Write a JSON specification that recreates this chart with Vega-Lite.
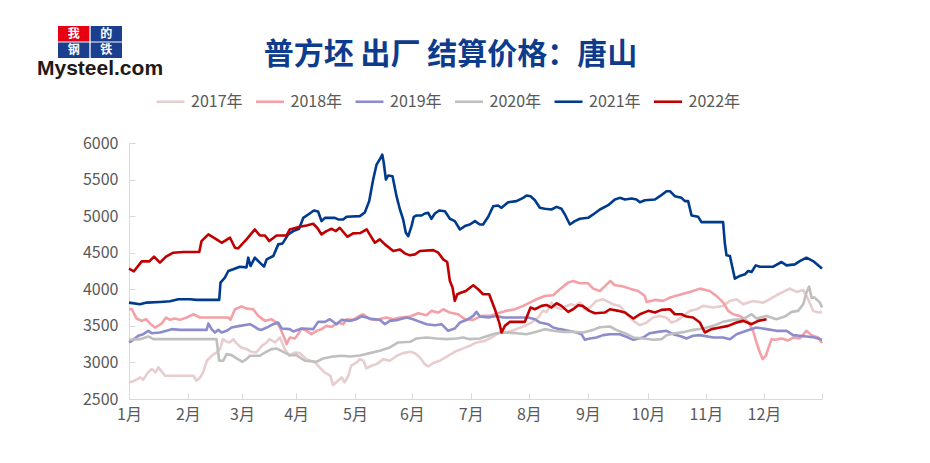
{
"$schema": "https://vega.github.io/schema/vega-lite/v6.json",
"background": "white",
"padding": {"left": 37, "top": 26, "right": 5, "bottom": 5},
"bounds": "flush",
"columns": 2,
"spacing": {"row": 85, "column": 7},
"resolve": {"scale": {"color": "independent", "strokeWidth": "independent"}},
"config": {"view": {"stroke": null}, "font": "Noto Sans CJK SC"},
"concat": [
{
"width": 64, "height": 32,
"data": {"values": [{"c": "我", "col": "a", "row": "a"}, {"c": "的", "col": "b", "row": "a"}, {"c": "钢", "col": "a", "row": "b"}, {"c": "铁", "col": "b", "row": "b"}]},
"title": {"text": "Mysteel.com", "orient": "bottom", "anchor": "start", "frame": "group", "dx": -21, "offset": 17, "baseline": "alphabetic", "fontSize": 21, "fontWeight": "bold", "font": "Liberation Sans", "color": "#231815"},
"encoding": {
"x": {"field": "col", "type": "nominal", "axis": null, "scale": {"paddingInner": 0.04, "paddingOuter": 0}},
"y": {"field": "row", "type": "nominal", "axis": null, "scale": {"paddingInner": 0.06, "paddingOuter": 0}}
},
"layer": [
{"mark": {"type": "rect"}, "encoding": {"fill": {"condition": {"test": "datum.c === '我'", "value": "#E60012"}, "value": "#1B3F8E"}}},
{"mark": {"type": "text", "fontSize": 12, "fontWeight": "bold", "color": "white", "font": "Noto Sans CJK SC"}, "encoding": {"text": {"field": "c", "type": "nominal"}}}
]
},
{
"width": 693, "height": 32,
"data": {"values": [{"t": ""}]},
"title": {"text": "普方坯 出厂 结算价格：唐山", "orient": "bottom", "anchor": "middle", "frame": "group", "dx": -25, "offset": 6, "baseline": "alphabetic", "fontSize": 30, "fontWeight": "bold", "color": "#0D3C8C", "font": "Noto Sans CJK SC"},
"mark": {"type": "text"},
"encoding": {"text": {"field": "t", "type": "nominal"}}
},
{
"width": 1, "height": 1,
"data": {"values": [{"t": ""}]},
"mark": {"type": "text"},
"encoding": {"text": {"field": "t", "type": "nominal"}}
},
{
"width": 693, "height": 256,
"data": {"values": [
{"year":"2017年","d":0,"v":2727},{"year":"2017年","d":3,"v":2750},{"year":"2017年","d":6,"v":2795},{"year":"2017年","d":7.5,"v":2764},{"year":"2017年","d":10,"v":2864},{"year":"2017年","d":12,"v":2909},{"year":"2017年","d":14,"v":2864},{"year":"2017年","d":15.5,"v":2932},{"year":"2017年","d":19,"v":2818},{"year":"2017年","d":34,"v":2818},{"year":"2017年","d":35.5,"v":2750},{"year":"2017年","d":37.5,"v":2795},{"year":"2017年","d":39,"v":2864},{"year":"2017年","d":41,"v":3023},{"year":"2017年","d":43.5,"v":3091},{"year":"2017年","d":46,"v":3136},{"year":"2017年","d":48,"v":3182},{"year":"2017年","d":49.5,"v":3318},{"year":"2017年","d":51.5,"v":3282},{"year":"2017年","d":53,"v":3273},{"year":"2017年","d":55,"v":3318},{"year":"2017年","d":56.5,"v":3264},{"year":"2017年","d":59,"v":3205},{"year":"2017年","d":62,"v":3182},{"year":"2017年","d":64.5,"v":3145},{"year":"2017年","d":67,"v":3136},{"year":"2017年","d":70,"v":3227},{"year":"2017年","d":72.5,"v":3273},{"year":"2017年","d":74,"v":3318},{"year":"2017年","d":77,"v":3273},{"year":"2017年","d":79.5,"v":3341},{"year":"2017年","d":82,"v":3182},{"year":"2017年","d":84.5,"v":3091},{"year":"2017年","d":87.5,"v":3136},{"year":"2017年","d":90,"v":3127},{"year":"2017年","d":93.5,"v":3045},{"year":"2017年","d":98,"v":3000},{"year":"2017年","d":99.5,"v":2955},{"year":"2017年","d":103,"v":2864},{"year":"2017年","d":106,"v":2818},{"year":"2017年","d":107.5,"v":2691},{"year":"2017年","d":110,"v":2750},{"year":"2017年","d":112,"v":2795},{"year":"2017年","d":113.5,"v":2727},{"year":"2017年","d":115.5,"v":2818},{"year":"2017年","d":117,"v":2955},{"year":"2017年","d":120,"v":3000},{"year":"2017年","d":121.5,"v":3045},{"year":"2017年","d":123.5,"v":3023},{"year":"2017年","d":125,"v":2920},{"year":"2017年","d":127.7,"v":2955},{"year":"2017年","d":130.4,"v":2977},{"year":"2017年","d":134,"v":3045},{"year":"2017年","d":137.4,"v":3023},{"year":"2017年","d":141,"v":3091},{"year":"2017年","d":144.4,"v":3127},{"year":"2017年","d":148,"v":3145},{"year":"2017年","d":150.6,"v":3127},{"year":"2017年","d":153.2,"v":3068},{"year":"2017年","d":155.8,"v":2977},{"year":"2017年","d":157.6,"v":2945},{"year":"2017年","d":160.2,"v":2991},{"year":"2017年","d":163.7,"v":3023},{"year":"2017年","d":168,"v":3091},{"year":"2017年","d":171.6,"v":3145},{"year":"2017年","d":175,"v":3182},{"year":"2017年","d":179.5,"v":3227},{"year":"2017年","d":183,"v":3273},{"year":"2017年","d":187.4,"v":3295},{"year":"2017年","d":191,"v":3341},{"year":"2017年","d":195.3,"v":3409},{"year":"2017年","d":199.7,"v":3418},{"year":"2017年","d":204,"v":3455},{"year":"2017年","d":208.5,"v":3500},{"year":"2017年","d":212,"v":3545},{"year":"2017年","d":215.5,"v":3614},{"year":"2017年","d":218,"v":3705},{"year":"2017年","d":220,"v":3691},{"year":"2017年","d":222.5,"v":3818},{"year":"2017年","d":225,"v":3750},{"year":"2017年","d":228,"v":3727},{"year":"2017年","d":230.4,"v":3773},{"year":"2017年","d":233,"v":3795},{"year":"2017年","d":235,"v":3773},{"year":"2017年","d":237.5,"v":3818},{"year":"2017年","d":240,"v":3727},{"year":"2017年","d":242.7,"v":3750},{"year":"2017年","d":246.2,"v":3841},{"year":"2017年","d":249.7,"v":3864},{"year":"2017年","d":251.5,"v":3841},{"year":"2017年","d":255,"v":3795},{"year":"2017年","d":258.5,"v":3773},{"year":"2017年","d":263,"v":3636},{"year":"2017年","d":265.6,"v":3568},{"year":"2017年","d":269,"v":3509},{"year":"2017年","d":272.6,"v":3545},{"year":"2017年","d":276,"v":3614},{"year":"2017年","d":279.6,"v":3636},{"year":"2017年","d":283,"v":3614},{"year":"2017年","d":285.7,"v":3545},{"year":"2017年","d":288.4,"v":3568},{"year":"2017年","d":292,"v":3636},{"year":"2017年","d":295.4,"v":3705},{"year":"2017年","d":299,"v":3727},{"year":"2017年","d":302.4,"v":3773},{"year":"2017年","d":307.7,"v":3750},{"year":"2017年","d":313,"v":3773},{"year":"2017年","d":316.5,"v":3841},{"year":"2017年","d":320,"v":3864},{"year":"2017年","d":323.5,"v":3795},{"year":"2017年","d":328.7,"v":3841},{"year":"2017年","d":334,"v":3818},{"year":"2017年","d":337.5,"v":3864},{"year":"2017年","d":341,"v":3918},{"year":"2017年","d":344.5,"v":3964},{"year":"2017年","d":348,"v":4009},{"year":"2017年","d":351.6,"v":3964},{"year":"2017年","d":355,"v":3991},{"year":"2017年","d":357.7,"v":3864},{"year":"2017年","d":360.3,"v":3705},{"year":"2017年","d":363,"v":3682},{"year":"2017年","d":365,"v":3691},
{"year":"2018年","d":0,"v":3727},{"year":"2018年","d":1.5,"v":3727},{"year":"2018年","d":4,"v":3600},{"year":"2018年","d":6.7,"v":3568},{"year":"2018年","d":9,"v":3591},{"year":"2018年","d":11.4,"v":3523},{"year":"2018年","d":13.7,"v":3477},{"year":"2018年","d":17.2,"v":3532},{"year":"2018年","d":19.5,"v":3614},{"year":"2018年","d":21.6,"v":3582},{"year":"2018年","d":24.2,"v":3600},{"year":"2018年","d":26.8,"v":3582},{"year":"2018年","d":30.4,"v":3614},{"year":"2018年","d":33.9,"v":3659},{"year":"2018年","d":37.4,"v":3614},{"year":"2018年","d":52.3,"v":3614},{"year":"2018年","d":53.5,"v":3582},{"year":"2018年","d":55.8,"v":3727},{"year":"2018年","d":59.3,"v":3764},{"year":"2018年","d":61.9,"v":3736},{"year":"2018年","d":65.4,"v":3727},{"year":"2018年","d":68.1,"v":3636},{"year":"2018年","d":71.6,"v":3568},{"year":"2018年","d":75.1,"v":3591},{"year":"2018年","d":77.7,"v":3545},{"year":"2018年","d":79.5,"v":3477},{"year":"2018年","d":82.1,"v":3318},{"year":"2018年","d":83,"v":3250},{"year":"2018年","d":84.7,"v":3341},{"year":"2018年","d":87.4,"v":3327},{"year":"2018年","d":89.1,"v":3386},{"year":"2018年","d":90.9,"v":3464},{"year":"2018年","d":93.5,"v":3432},{"year":"2018年","d":96.1,"v":3386},{"year":"2018年","d":98.8,"v":3432},{"year":"2018年","d":101.4,"v":3455},{"year":"2018年","d":104,"v":3500},{"year":"2018年","d":106.7,"v":3486},{"year":"2018年","d":110.2,"v":3545},{"year":"2018年","d":112.8,"v":3523},{"year":"2018年","d":114.6,"v":3591},{"year":"2018年","d":118,"v":3582},{"year":"2018年","d":121.6,"v":3640},{"year":"2018年","d":123.3,"v":3659},{"year":"2018年","d":126.9,"v":3591},{"year":"2018年","d":130.4,"v":3582},{"year":"2018年","d":135.6,"v":3614},{"year":"2018年","d":139.2,"v":3591},{"year":"2018年","d":142.7,"v":3614},{"year":"2018年","d":148,"v":3627},{"year":"2018年","d":152.3,"v":3673},{"year":"2018年","d":156.7,"v":3645},{"year":"2018年","d":159.3,"v":3705},{"year":"2018年","d":162.9,"v":3682},{"year":"2018年","d":165.5,"v":3727},{"year":"2018年","d":169,"v":3682},{"year":"2018年","d":173.4,"v":3659},{"year":"2018年","d":176.9,"v":3591},{"year":"2018年","d":181.3,"v":3582},{"year":"2018年","d":185.7,"v":3636},{"year":"2018年","d":190.1,"v":3636},{"year":"2018年","d":194.4,"v":3673},{"year":"2018年","d":198.8,"v":3705},{"year":"2018年","d":203.2,"v":3727},{"year":"2018年","d":207.6,"v":3773},{"year":"2018年","d":211.1,"v":3818},{"year":"2018年","d":214.6,"v":3864},{"year":"2018年","d":219,"v":3909},{"year":"2018年","d":223.4,"v":3918},{"year":"2018年","d":226.9,"v":4000},{"year":"2018年","d":231.3,"v":4091},{"year":"2018年","d":233.9,"v":4114},{"year":"2018年","d":237.5,"v":4082},{"year":"2018年","d":241.8,"v":4082},{"year":"2018年","d":244.5,"v":4009},{"year":"2018年","d":248,"v":3977},{"year":"2018年","d":250.6,"v":4040},{"year":"2018年","d":253.5,"v":4114},{"year":"2018年","d":255.9,"v":4055},{"year":"2018年","d":259.4,"v":4045},{"year":"2018年","d":263.8,"v":4009},{"year":"2018年","d":268.2,"v":3977},{"year":"2018年","d":271.7,"v":3909},{"year":"2018年","d":272.6,"v":3827},{"year":"2018年","d":277,"v":3855},{"year":"2018年","d":281.4,"v":3841},{"year":"2018年","d":284.9,"v":3886},{"year":"2018年","d":289.2,"v":3918},{"year":"2018年","d":292.8,"v":3945},{"year":"2018年","d":295.4,"v":3964},{"year":"2018年","d":300.7,"v":4009},{"year":"2018年","d":305.9,"v":3977},{"year":"2018年","d":309.4,"v":3909},{"year":"2018年","d":313,"v":3818},{"year":"2018年","d":315.6,"v":3705},{"year":"2018年","d":318.2,"v":3659},{"year":"2018年","d":321.7,"v":3636},{"year":"2018年","d":326.1,"v":3555},{"year":"2018年","d":328.7,"v":3432},{"year":"2018年","d":330.5,"v":3273},{"year":"2018年","d":332.3,"v":3136},{"year":"2018年","d":333.7,"v":3045},{"year":"2018年","d":335.4,"v":3091},{"year":"2018年","d":336.6,"v":3182},{"year":"2018年","d":338.4,"v":3318},{"year":"2018年","d":340.2,"v":3309},{"year":"2018年","d":343.7,"v":3327},{"year":"2018年","d":347.2,"v":3300},{"year":"2018年","d":349.8,"v":3341},{"year":"2018年","d":353.3,"v":3327},{"year":"2018年","d":356.8,"v":3432},{"year":"2018年","d":359.5,"v":3373},{"year":"2018年","d":363,"v":3341},{"year":"2018年","d":365,"v":3264},
{"year":"2019年","d":0,"v":3273},{"year":"2019年","d":1.5,"v":3295},{"year":"2019年","d":4.9,"v":3364},{"year":"2019年","d":7.5,"v":3386},{"year":"2019年","d":10.2,"v":3432},{"year":"2019年","d":11.9,"v":3400},{"year":"2019年","d":16.3,"v":3409},{"year":"2019年","d":19.8,"v":3432},{"year":"2019年","d":22.5,"v":3455},{"year":"2019年","d":26.8,"v":3445},{"year":"2019年","d":40.9,"v":3445},{"year":"2019年","d":41.8,"v":3532},{"year":"2019年","d":43.5,"v":3455},{"year":"2019年","d":45.3,"v":3409},{"year":"2019年","d":47,"v":3445},{"year":"2019年","d":48.8,"v":3409},{"year":"2019年","d":51.4,"v":3432},{"year":"2019年","d":54,"v":3477},{"year":"2019年","d":58.4,"v":3500},{"year":"2019年","d":63.7,"v":3523},{"year":"2019年","d":65.4,"v":3500},{"year":"2019年","d":68.1,"v":3455},{"year":"2019年","d":69.8,"v":3445},{"year":"2019年","d":72.5,"v":3477},{"year":"2019年","d":76,"v":3523},{"year":"2019年","d":78.6,"v":3545},{"year":"2019年","d":80.4,"v":3464},{"year":"2019年","d":84.7,"v":3455},{"year":"2019年","d":86.5,"v":3423},{"year":"2019年","d":90.9,"v":3464},{"year":"2019年","d":97,"v":3455},{"year":"2019年","d":99.6,"v":3555},{"year":"2019年","d":103.2,"v":3555},{"year":"2019年","d":105.8,"v":3591},{"year":"2019年","d":109.3,"v":3523},{"year":"2019年","d":111.9,"v":3582},{"year":"2019年","d":116.3,"v":3568},{"year":"2019年","d":119.8,"v":3591},{"year":"2019年","d":122.5,"v":3630},{"year":"2019年","d":125.1,"v":3614},{"year":"2019年","d":127.7,"v":3595},{"year":"2019年","d":132.1,"v":3582},{"year":"2019年","d":134.8,"v":3523},{"year":"2019年","d":137.4,"v":3568},{"year":"2019年","d":141.8,"v":3582},{"year":"2019年","d":146.2,"v":3614},{"year":"2019年","d":149.7,"v":3591},{"year":"2019年","d":153.2,"v":3555},{"year":"2019年","d":156.7,"v":3523},{"year":"2019年","d":161.1,"v":3509},{"year":"2019年","d":164.6,"v":3523},{"year":"2019年","d":168.1,"v":3432},{"year":"2019年","d":171.6,"v":3464},{"year":"2019年","d":174.3,"v":3545},{"year":"2019年","d":178.6,"v":3591},{"year":"2019年","d":181.3,"v":3636},{"year":"2019年","d":183,"v":3691},{"year":"2019年","d":184.8,"v":3627},{"year":"2019年","d":189.2,"v":3614},{"year":"2019年","d":193.6,"v":3636},{"year":"2019年","d":197.1,"v":3614},{"year":"2019年","d":210.2,"v":3614},{"year":"2019年","d":213.8,"v":3591},{"year":"2019年","d":216.4,"v":3545},{"year":"2019年","d":220.8,"v":3523},{"year":"2019年","d":223.4,"v":3477},{"year":"2019年","d":226.9,"v":3455},{"year":"2019年","d":231.3,"v":3432},{"year":"2019年","d":235.7,"v":3409},{"year":"2019年","d":238.3,"v":3386},{"year":"2019年","d":240.1,"v":3309},{"year":"2019年","d":242.7,"v":3327},{"year":"2019年","d":246.2,"v":3341},{"year":"2019年","d":249.7,"v":3373},{"year":"2019年","d":253.3,"v":3386},{"year":"2019年","d":258.5,"v":3386},{"year":"2019年","d":262.9,"v":3341},{"year":"2019年","d":265.6,"v":3309},{"year":"2019年","d":270.8,"v":3341},{"year":"2019年","d":274.3,"v":3400},{"year":"2019年","d":278.7,"v":3418},{"year":"2019年","d":283.1,"v":3432},{"year":"2019年","d":286.6,"v":3386},{"year":"2019年","d":291,"v":3355},{"year":"2019年","d":293.6,"v":3327},{"year":"2019年","d":297.1,"v":3364},{"year":"2019年","d":300.7,"v":3373},{"year":"2019年","d":307.7,"v":3341},{"year":"2019年","d":312.9,"v":3341},{"year":"2019年","d":316.5,"v":3318},{"year":"2019年","d":320,"v":3386},{"year":"2019年","d":325.2,"v":3432},{"year":"2019年","d":330.5,"v":3477},{"year":"2019年","d":335.8,"v":3455},{"year":"2019年","d":341,"v":3432},{"year":"2019年","d":346.3,"v":3432},{"year":"2019年","d":349.8,"v":3373},{"year":"2019年","d":356.8,"v":3355},{"year":"2019年","d":361.2,"v":3341},{"year":"2019年","d":365,"v":3309},
{"year":"2020年","d":0,"v":3309},{"year":"2020年","d":5.8,"v":3318},{"year":"2020年","d":10.2,"v":3355},{"year":"2020年","d":12.8,"v":3318},{"year":"2020年","d":46.1,"v":3318},{"year":"2020年","d":47.5,"v":3023},{"year":"2020年","d":49.6,"v":3023},{"year":"2020年","d":51.4,"v":3114},{"year":"2020年","d":54,"v":3100},{"year":"2020年","d":56.7,"v":3055},{"year":"2020年","d":59.8,"v":3009},{"year":"2020年","d":61.9,"v":3045},{"year":"2020年","d":63.7,"v":3091},{"year":"2020年","d":68.9,"v":3091},{"year":"2020年","d":71.6,"v":3136},{"year":"2020年","d":75.1,"v":3182},{"year":"2020年","d":77.7,"v":3191},{"year":"2020年","d":81.2,"v":3145},{"year":"2020年","d":84.7,"v":3100},{"year":"2020年","d":88.2,"v":3100},{"year":"2020年","d":92.6,"v":3023},{"year":"2020年","d":98.8,"v":3009},{"year":"2020年","d":102.3,"v":3055},{"year":"2020年","d":106.7,"v":3077},{"year":"2020年","d":111.9,"v":3091},{"year":"2020年","d":116.3,"v":3082},{"year":"2020年","d":121.6,"v":3095},{"year":"2020年","d":126.9,"v":3127},{"year":"2020年","d":132.1,"v":3159},{"year":"2020年","d":137.4,"v":3205},{"year":"2020年","d":141.8,"v":3273},{"year":"2020年","d":148,"v":3282},{"year":"2020年","d":151.4,"v":3327},{"year":"2020年","d":156.7,"v":3341},{"year":"2020年","d":162,"v":3327},{"year":"2020年","d":167.2,"v":3318},{"year":"2020年","d":172.5,"v":3327},{"year":"2020年","d":176,"v":3341},{"year":"2020年","d":179.5,"v":3318},{"year":"2020年","d":184.8,"v":3327},{"year":"2020年","d":189.2,"v":3364},{"year":"2020年","d":193.6,"v":3400},{"year":"2020年","d":198.8,"v":3409},{"year":"2020年","d":204.1,"v":3400},{"year":"2020年","d":209.4,"v":3386},{"year":"2020年","d":214.6,"v":3418},{"year":"2020年","d":219,"v":3455},{"year":"2020年","d":223.4,"v":3432},{"year":"2020年","d":228.7,"v":3418},{"year":"2020年","d":233.9,"v":3418},{"year":"2020年","d":239.2,"v":3409},{"year":"2020年","d":244.5,"v":3445},{"year":"2020年","d":248,"v":3480},{"year":"2020年","d":253.3,"v":3491},{"year":"2020年","d":257.7,"v":3432},{"year":"2020年","d":261.2,"v":3400},{"year":"2020年","d":265.6,"v":3341},{"year":"2020年","d":270.8,"v":3327},{"year":"2020年","d":276.1,"v":3309},{"year":"2020年","d":280.5,"v":3318},{"year":"2020年","d":283.1,"v":3373},{"year":"2020年","d":287.5,"v":3400},{"year":"2020年","d":292.8,"v":3418},{"year":"2020年","d":297.1,"v":3445},{"year":"2020年","d":302.4,"v":3464},{"year":"2020年","d":307.7,"v":3500},{"year":"2020年","d":312.9,"v":3555},{"year":"2020年","d":318.2,"v":3582},{"year":"2020年","d":323.5,"v":3591},{"year":"2020年","d":327.9,"v":3659},{"year":"2020年","d":330.5,"v":3600},{"year":"2020年","d":335.8,"v":3636},{"year":"2020年","d":341,"v":3591},{"year":"2020年","d":345.4,"v":3627},{"year":"2020年","d":349,"v":3691},{"year":"2020年","d":352.4,"v":3705},{"year":"2020年","d":355.1,"v":3795},{"year":"2020年","d":356.8,"v":3955},{"year":"2020年","d":358.2,"v":4036},{"year":"2020年","d":359.5,"v":3886},{"year":"2020年","d":361.2,"v":3886},{"year":"2020年","d":363.9,"v":3818},{"year":"2020年","d":365,"v":3750},
{"year":"2021年","d":0,"v":3818},{"year":"2021年","d":5.8,"v":3795},{"year":"2021年","d":9.3,"v":3818},{"year":"2021年","d":16.3,"v":3827},{"year":"2021年","d":21.6,"v":3836},{"year":"2021年","d":26,"v":3864},{"year":"2021年","d":32.1,"v":3864},{"year":"2021年","d":35.6,"v":3855},{"year":"2021年","d":47.5,"v":3855},{"year":"2021年","d":48.2,"v":4091},{"year":"2021年","d":50.5,"v":4159},{"year":"2021年","d":52.3,"v":4250},{"year":"2021年","d":54.9,"v":4273},{"year":"2021年","d":58.4,"v":4309},{"year":"2021年","d":61.9,"v":4300},{"year":"2021年","d":62.8,"v":4432},{"year":"2021年","d":64,"v":4318},{"year":"2021年","d":66.3,"v":4432},{"year":"2021年","d":68.9,"v":4364},{"year":"2021年","d":71.1,"v":4309},{"year":"2021年","d":72.5,"v":4409},{"year":"2021年","d":76,"v":4455},{"year":"2021年","d":78.6,"v":4614},{"year":"2021年","d":80.9,"v":4627},{"year":"2021年","d":83.9,"v":4750},{"year":"2021年","d":86.5,"v":4796},{"year":"2021年","d":89.6,"v":4827},{"year":"2021年","d":91.8,"v":4977},{"year":"2021年","d":94.4,"v":5023},{"year":"2021年","d":97.4,"v":5077},{"year":"2021年","d":99.6,"v":5064},{"year":"2021年","d":101.4,"v":4932},{"year":"2021年","d":103.2,"v":4977},{"year":"2021年","d":108.4,"v":4977},{"year":"2021年","d":110.2,"v":4955},{"year":"2021年","d":112.8,"v":4955},{"year":"2021年","d":114.6,"v":4991},{"year":"2021年","d":121.6,"v":5000},{"year":"2021年","d":124.2,"v":5050},{"year":"2021年","d":126.5,"v":5205},{"year":"2021年","d":128.6,"v":5500},{"year":"2021年","d":130.4,"v":5705},{"year":"2021年","d":132.5,"v":5795},{"year":"2021年","d":133.4,"v":5841},{"year":"2021年","d":134.2,"v":5727},{"year":"2021年","d":135.3,"v":5500},{"year":"2021年","d":136.5,"v":5555},{"year":"2021年","d":138.8,"v":5545},{"year":"2021年","d":140.9,"v":5273},{"year":"2021年","d":142.7,"v":5091},{"year":"2021年","d":144.4,"v":4955},{"year":"2021年","d":145.8,"v":4773},{"year":"2021年","d":147.1,"v":4727},{"year":"2021年","d":148.8,"v":4864},{"year":"2021年","d":150,"v":4991},{"year":"2021年","d":151.4,"v":5009},{"year":"2021年","d":154.1,"v":5009},{"year":"2021年","d":155.8,"v":5036},{"year":"2021年","d":157.6,"v":5045},{"year":"2021年","d":159.3,"v":4964},{"year":"2021年","d":161.1,"v":5036},{"year":"2021年","d":163.4,"v":5077},{"year":"2021年","d":166.4,"v":5068},{"year":"2021年","d":169,"v":4964},{"year":"2021年","d":171.6,"v":4932},{"year":"2021年","d":174.3,"v":4818},{"year":"2021年","d":176.9,"v":4864},{"year":"2021年","d":179.5,"v":4886},{"year":"2021年","d":182.2,"v":4932},{"year":"2021年","d":184.8,"v":4886},{"year":"2021年","d":186.5,"v":4886},{"year":"2021年","d":189.2,"v":4991},{"year":"2021年","d":191.8,"v":5136},{"year":"2021年","d":194.4,"v":5145},{"year":"2021年","d":196.2,"v":5114},{"year":"2021年","d":199.7,"v":5191},{"year":"2021年","d":204.1,"v":5205},{"year":"2021年","d":207.6,"v":5250},{"year":"2021年","d":209.4,"v":5282},{"year":"2021年","d":211.5,"v":5273},{"year":"2021年","d":213.8,"v":5218},{"year":"2021年","d":216.4,"v":5114},{"year":"2021年","d":219,"v":5100},{"year":"2021年","d":222.5,"v":5091},{"year":"2021年","d":225.2,"v":5127},{"year":"2021年","d":227.8,"v":5100},{"year":"2021年","d":229.6,"v":5023},{"year":"2021年","d":232.2,"v":4886},{"year":"2021年","d":234.8,"v":4932},{"year":"2021年","d":237.5,"v":4964},{"year":"2021年","d":241.8,"v":4977},{"year":"2021年","d":244.5,"v":5023},{"year":"2021年","d":248,"v":5091},{"year":"2021年","d":252.4,"v":5150},{"year":"2021年","d":255.9,"v":5227},{"year":"2021年","d":258.5,"v":5250},{"year":"2021年","d":261.2,"v":5227},{"year":"2021年","d":264.7,"v":5241},{"year":"2021年","d":267.3,"v":5227},{"year":"2021年","d":269.1,"v":5191},{"year":"2021年","d":271.7,"v":5218},{"year":"2021年","d":277,"v":5227},{"year":"2021年","d":279.6,"v":5273},{"year":"2021年","d":283.1,"v":5341},{"year":"2021年","d":284.9,"v":5341},{"year":"2021年","d":287.5,"v":5273},{"year":"2021年","d":291,"v":5250},{"year":"2021年","d":292.8,"v":5205},{"year":"2021年","d":294.5,"v":5205},{"year":"2021年","d":296.3,"v":5009},{"year":"2021年","d":299.8,"v":4991},{"year":"2021年","d":301.5,"v":4918},{"year":"2021年","d":312.9,"v":4918},{"year":"2021年","d":313.8,"v":4636},{"year":"2021年","d":314.7,"v":4464},{"year":"2021年","d":316.5,"v":4455},{"year":"2021年","d":319.1,"v":4145},{"year":"2021年","d":321.7,"v":4182},{"year":"2021年","d":324.4,"v":4205},{"year":"2021年","d":326.1,"v":4250},{"year":"2021年","d":327.9,"v":4236},{"year":"2021年","d":330.1,"v":4327},{"year":"2021年","d":332.3,"v":4309},{"year":"2021年","d":339.3,"v":4309},{"year":"2021年","d":343.7,"v":4373},{"year":"2021年","d":346.3,"v":4327},{"year":"2021年","d":350.7,"v":4341},{"year":"2021年","d":353.3,"v":4386},{"year":"2021年","d":356.8,"v":4432},{"year":"2021年","d":360.3,"v":4386},{"year":"2021年","d":363.9,"v":4309},{"year":"2021年","d":365,"v":4282},
{"year":"2022年","d":0,"v":4282},{"year":"2022年","d":2.6,"v":4246},{"year":"2022年","d":6.7,"v":4382},{"year":"2022年","d":10.7,"v":4382},{"year":"2022年","d":13.2,"v":4446},{"year":"2022年","d":16.3,"v":4364},{"year":"2022年","d":19.5,"v":4446},{"year":"2022年","d":23.3,"v":4500},{"year":"2022年","d":28.6,"v":4510},{"year":"2022年","d":37,"v":4510},{"year":"2022年","d":38.2,"v":4659},{"year":"2022年","d":41.8,"v":4750},{"year":"2022年","d":46.1,"v":4682},{"year":"2022年","d":48.8,"v":4636},{"year":"2022年","d":53.2,"v":4705},{"year":"2022年","d":55.8,"v":4568},{"year":"2022年","d":57.5,"v":4559},{"year":"2022年","d":61.9,"v":4682},{"year":"2022年","d":66.3,"v":4818},{"year":"2022年","d":68.9,"v":4736},{"year":"2022年","d":71.6,"v":4736},{"year":"2022年","d":73.9,"v":4659},{"year":"2022年","d":77.7,"v":4736},{"year":"2022年","d":83,"v":4736},{"year":"2022年","d":84.7,"v":4818},{"year":"2022年","d":90,"v":4855},{"year":"2022年","d":93.5,"v":4873},{"year":"2022年","d":97,"v":4896},{"year":"2022年","d":99.1,"v":4841},{"year":"2022年","d":101.4,"v":4750},{"year":"2022年","d":104,"v":4796},{"year":"2022年","d":106.7,"v":4827},{"year":"2022年","d":109,"v":4796},{"year":"2022年","d":111,"v":4841},{"year":"2022年","d":115,"v":4718},{"year":"2022年","d":118,"v":4764},{"year":"2022年","d":122,"v":4770},{"year":"2022年","d":125.2,"v":4818},{"year":"2022年","d":127,"v":4740},{"year":"2022年","d":129.5,"v":4636},{"year":"2022年","d":132.1,"v":4682},{"year":"2022年","d":134.8,"v":4614},{"year":"2022年","d":139.2,"v":4523},{"year":"2022年","d":142.7,"v":4545},{"year":"2022年","d":145.3,"v":4491},{"year":"2022年","d":148,"v":4464},{"year":"2022年","d":150.6,"v":4477},{"year":"2022年","d":153.2,"v":4523},{"year":"2022年","d":160.2,"v":4536},{"year":"2022年","d":162.9,"v":4500},{"year":"2022年","d":165.5,"v":4409},{"year":"2022年","d":167.6,"v":4373},{"year":"2022年","d":169,"v":4114},{"year":"2022年","d":170.4,"v":4023},{"year":"2022年","d":171.6,"v":3841},{"year":"2022年","d":172.9,"v":3932},{"year":"2022年","d":175.1,"v":3955},{"year":"2022年","d":177.4,"v":3977},{"year":"2022年","d":181.3,"v":4055},{"year":"2022年","d":183.9,"v":4000},{"year":"2022年","d":186.5,"v":3932},{"year":"2022年","d":189.7,"v":3932},{"year":"2022年","d":192.7,"v":3727},{"year":"2022年","d":195,"v":3545},{"year":"2022年","d":196.2,"v":3409},{"year":"2022年","d":198,"v":3500},{"year":"2022年","d":200.6,"v":3555},{"year":"2022年","d":208.5,"v":3555},{"year":"2022年","d":211.5,"v":3750},{"year":"2022年","d":213.8,"v":3727},{"year":"2022年","d":217.3,"v":3773},{"year":"2022年","d":219.9,"v":3786},{"year":"2022年","d":222.5,"v":3750},{"year":"2022年","d":225.2,"v":3809},{"year":"2022年","d":227.8,"v":3773},{"year":"2022年","d":231.3,"v":3691},{"year":"2022年","d":233.9,"v":3727},{"year":"2022年","d":236.6,"v":3782},{"year":"2022年","d":238.9,"v":3773},{"year":"2022年","d":242.4,"v":3705},{"year":"2022年","d":245.4,"v":3673},{"year":"2022年","d":250.6,"v":3682},{"year":"2022年","d":253.3,"v":3727},{"year":"2022年","d":257.7,"v":3705},{"year":"2022年","d":261.2,"v":3682},{"year":"2022年","d":265.6,"v":3600},{"year":"2022年","d":269.1,"v":3659},{"year":"2022年","d":273.5,"v":3705},{"year":"2022年","d":277,"v":3682},{"year":"2022年","d":280.5,"v":3718},{"year":"2022年","d":284.9,"v":3727},{"year":"2022年","d":287.5,"v":3659},{"year":"2022年","d":291,"v":3659},{"year":"2022年","d":293.6,"v":3627},{"year":"2022年","d":297.1,"v":3614},{"year":"2022年","d":300.7,"v":3545},{"year":"2022年","d":303.3,"v":3409},{"year":"2022年","d":306.8,"v":3455},{"year":"2022年","d":311.2,"v":3477},{"year":"2022年","d":315.6,"v":3500},{"year":"2022年","d":320,"v":3545},{"year":"2022年","d":323.5,"v":3568},{"year":"2022年","d":327.9,"v":3523},{"year":"2022年","d":331.4,"v":3568},{"year":"2022年","d":335.8,"v":3591}
]},
"mark": {"type": "line", "interpolate": "linear", "strokeJoin": "round"},
"encoding": {
"x": {"field": "d", "type": "quantitative", "scale": {"domain": [0, 365], "nice": false, "zero": false},
"axis": {"title": null, "grid": false, "values": [0, 31, 59.5, 88, 119, 149, 180, 210.6, 241.7, 273.3, 303.8, 334.4, 365], "labelExpr": "datum.value >= 364 ? '' : (round(datum.value / 30.4) + 1) + '月'", "tickSize": -6, "labelPadding": 13, "domainColor": "#D9D9D9", "tickColor": "#D9D9D9", "labelColor": "#595959", "labelFontSize": 16, "labelFont": "Noto Sans CJK SC", "labelFlush": false, "labelOverlap": false}},
"y": {"field": "v", "type": "quantitative", "scale": {"domain": [2500, 6000], "nice": false, "zero": false},
"axis": {"title": null, "grid": false, "format": "d", "values": [2500, 3000, 3500, 4000, 4500, 5000, 5500, 6000], "tickSize": -6, "labelPadding": 17, "domainColor": "#D9D9D9", "tickColor": "#D9D9D9", "labelColor": "#595959", "labelFontSize": 16, "labelFont": "Noto Sans CJK SC"}},
"color": {"field": "year", "type": "nominal",
"scale": {"domain": ["2017年", "2018年", "2019年", "2020年", "2021年", "2022年"], "range": ["#E8CDCE", "#F4A0A7", "#8C8CCC", "#BFBFBF", "#003A8C", "#C00000"]},
"legend": {"orient": "none", "legendX": 26, "legendY": -57, "direction": "horizontal", "columns": 6, "title": null, "symbolType": "stroke", "symbolSize": 784, "labelFontSize": 16, "labelColor": "#595959", "labelFont": "Noto Sans CJK SC", "labelOffset": 5, "columnPadding": 7.5, "padding": 0}},
"strokeWidth": {"field": "year", "type": "nominal",
"scale": {"domain": ["2017年", "2018年", "2019年", "2020年", "2021年", "2022年"], "range": [2.6, 2.6, 2.6, 2.6, 2.6, 4.2]},
"legend": {"orient": "none", "legendX": 26, "legendY": -57, "direction": "horizontal", "columns": 6, "title": null, "symbolType": "stroke", "symbolSize": 784, "labelFontSize": 16, "labelColor": "#595959", "labelFont": "Noto Sans CJK SC", "labelOffset": 5, "columnPadding": 7.5, "padding": 0}}
}
}
]
}
